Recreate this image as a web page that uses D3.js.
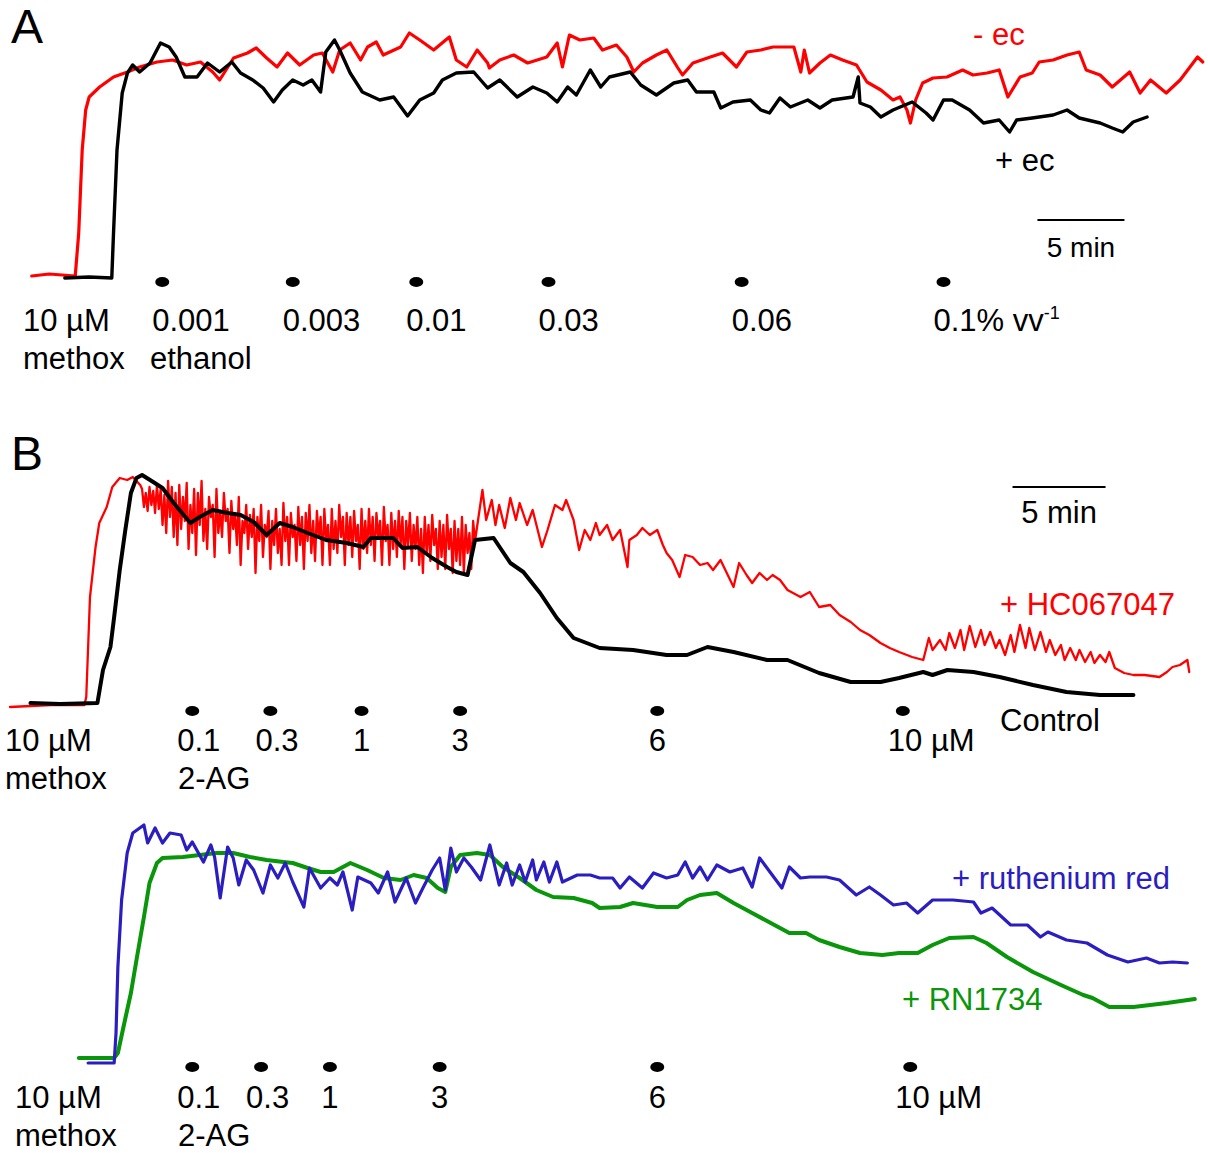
<!DOCTYPE html>
<html>
<head>
<meta charset="utf-8">
<script src="https://cdn.jsdelivr.net/npm/d3@7"></script>
<style>
	body { margin: 0; background: #fff; }
	svg text { font-family: "Liberation Sans", Arial, sans-serif; }
</style>
</head>
<body>
<svg id="chart" width="1208" height="1153"></svg>
<script>

	// ---- panel A : ethanol vehicle, [time (min), response (a.u.)] ----
	var minusEc = [[0.1,0],[1.1,1],[2.6,0],[2.8,21.5],[3.0,63],[3.2,83],[3.4,89.5],[4.0,94.5],[4.8,99.5],[5.6,102],
		[6.3,104.5],[7.3,107],[8.2,108],[9.0,105.5],[9.8,107],[10.5,102],[10.9,98],[11.7,109],[12.5,111.5],[13.0,114],
		[13.6,109],[14.2,104.5],[14.8,111.5],[15.5,105.5],[16.3,110.5],[16.8,111.5],[17.4,102],[17.8,113],[18.4,116.5],[19.0,108],
		[19.4,114.5],[19.9,117],[20.3,110.5],[21.3,114.5],[21.8,121.5],[22.4,118],[23.2,113],[24.1,119.5],[24.5,108],[25.1,104.5],
		[25.7,113],[26.3,106.5],[26.4,104],[27.0,108],[27.8,110.5],[28.6,106.5],[29.7,109.5],[30.3,116.5],[30.6,104.5],[31.0,120.5],
		[31.6,118],[32.4,119],[32.9,113],[33.7,115.5],[34.3,109.5],[34.7,102],[35.2,106.5],[36.0,110.5],[36.6,113],[37.2,104.5],
		[37.5,100.5],[38.1,106.5],[39.1,109.5],[39.8,111.5],[40.6,104.5],[41.2,112],[42.0,113],[42.7,114.5],[43.9,114.5],[44.3,102],
		[44.5,113],[44.8,101.5],[45.4,106.5],[46.0,110.5],[46.7,108],[47.5,105.5],[48.1,97],[48.9,93],[49.6,88],[50.0,89.5],
		[50.4,83],[50.6,76.5],[50.9,88],[51.3,96.5],[51.9,99],[52.7,99.5],[53.6,103],[54.2,100.5],[55.0,101.5],[55.7,103],
		[56.2,89.5],[56.9,99.5],[57.6,101.5],[58.0,107],[58.8,108],[59.6,110.5],[60.3,112],[60.7,103],[61.5,100.5],[62.2,94.5],
		[63.2,102],[63.8,91.5],[64.4,98],[65.3,91.5],[66.1,98],[67.1,109.5],[67.4,107]];

	var plusEc = [[2.0,-1],[3.4,-0.5],[4.7,-1],[4.8,21.5],[5.0,63],[5.3,91.5],[5.6,101.5],[5.9,105.5],[6.3,102],[6.9,106.5],
		[7.5,116.5],[8.0,114.5],[8.4,109.5],[8.9,99.5],[9.6,99.5],[10.2,106.5],[10.9,102],[11.6,107],[12.1,101.5],[12.8,98],
		[13.4,94],[14.0,87],[14.5,93],[15.1,98],[15.7,95.5],[16.2,98],[16.7,92],[17.0,112],[17.5,118],[17.8,113],
		[18.4,101.5],[19.1,92],[20.1,88],[20.9,89.5],[21.7,80],[22.4,88],[23.2,91.5],[23.7,98],[24.5,101.5],[25.5,102],
		[26.3,94],[27.0,98],[28.0,89.5],[28.9,94.5],[29.7,91.5],[30.3,87],[30.9,94.5],[31.4,90.5],[32.2,103],[32.8,94.5],
		[33.3,99.5],[34.5,102],[35.1,95.5],[36.0,90.5],[37.0,96.5],[37.8,98],[38.3,92],[39.3,92],[39.7,84],[40.4,87],
		[41.4,88],[42.0,83],[42.5,81.5],[43.1,89],[43.7,84.5],[44.7,88],[45.4,84],[46.1,88],[47.3,89.5],[47.6,99.5],
		[47.7,86.5],[48.3,84.5],[48.9,79.5],[49.6,83],[50.7,87],[51.5,81.5],[51.9,78],[52.5,88],[53.0,88],[54.0,83],
		[54.8,76.5],[55.7,78],[56.3,72],[56.7,78],[57.6,79],[58.8,80.5],[59.6,83],[60.3,79],[61.5,76.5],[62.2,74],
		[62.8,72],[63.4,77],[64.2,79.5]];

	var dosesA = [7.6, 15.1, 22.2, 29.8, 40.9, 52.5];
	var doseLabelsA = ["0.001", "0.003", "0.01", "0.03", "0.06", "0.1% vv^-1"];

	// ---- panel B : 2-AG, [time (min), response (a.u.)] ----
	// onset of the HC067047 trace
	var hcRise = [[0,-1],[1.1,-0.5],[2.2,0],[4.0,0],[4.1,4],[4.3,54],[4.6,79],[4.8,91],[5.2,99],[5.5,109],
		[5.9,113.5],[6.3,112.5],[6.6,114],[7.0,110]];
	// the very noisy stretch, read every 0.1 min from 7.1 min
	var hcNoisyStart = 7.1;
	var hcNoisy = [108,99,106,97,109,100,107,96,110,98,
		108,90,105,86,112,94,109,84,106,80,
		110,88,104,92,111,78,100,86,108,75,
		106,90,112,82,98,78,104,94,100,74,
		108,86,97,84,106,92,98,76,102,88,
		96,80,104,70,92,86,100,78,95,84,
		98,66,94,82,100,74,90,84,97,68,
		92,80,98,76,88,70,101,82,94,70,
		96,84,90,72,99,80,94,68,96,82,
		100,76,92,72,97,84,94,70,98,82,
		90,70,98,78,92,76,100,84,94,70,
		96,80,94,74,97,82,90,68,98,78,
		92,76,98,80,94,72,96,84,92,70,
		99,82,90,70,96,78,92,74,97,80,
		94,68,92,80,96,72,90,78,94,70,
		88,66,94,76,90,72,95,80,88,68,
		92,74,90,68,95,78,88,66,92,72,
		88,70,94,66,90,76,86,68,92];
	var hcTail = [[25.0,82],
		[25.4,107.5],[25.6,92.5],[25.9,102.5],[26.1,90],[26.3,100],[26.6,88.5],[26.9,103.5],[27.2,92.5],[27.4,101],[27.8,90],
		[28.1,97.5],[28.6,79],[28.9,87.5],[29.3,100],[29.7,97.5],[29.9,102.5],[30.3,92.5],[30.6,77.5],[30.9,87.5],[31.2,82.5],
		[31.5,91],[31.7,85],[32.1,90],[32.4,82.5],[32.8,87.5],[33.2,69],[33.3,82.5],[33.7,85],[34.0,88.5],[34.4,85],
		[34.8,87.5],[35.1,80],[35.3,76],[35.6,72.5],[36.0,64],[36.3,75],[36.7,74],[37.1,70],[37.5,71],[37.8,67.5],
		[38.2,72.5],[38.9,59],[39.2,71],[39.6,65],[39.9,61],[40.3,66],[40.7,62.5],[41.0,65],[41.4,62.5],[41.8,57.5],
		[42.5,54],[43.0,56.5],[43.5,49],[44.1,50],[44.6,45],[45.2,41.5],[45.7,37.5],[46.2,35],[46.8,31],[47.3,28.5],
		[47.8,26.5],[48.5,24],[49.1,22.5],[49.4,33.5],[49.6,27.5],
		[50.0,32.5],[50.3,27.5],[50.5,36],[50.8,28.5],[51.1,37.5],[51.3,27.5],[51.6,39.5],[51.9,29],[52.2,37.5],[52.4,30],
		[52.7,36.5],[53.0,28.5],[53.2,32.5],[53.5,25],[53.8,35],[54.0,26.5],[54.3,40],[54.6,28.5],[54.8,38.5],[55.1,27.5],
		[55.4,36.5],[55.7,26.5],[55.9,32.5],[56.2,25],[56.5,30],[56.7,22.5],[57.0,28.5],[57.3,22.5],[57.5,27.5],[57.8,21.5],
		[58.1,26.5],[58.3,21],[58.6,25],[58.9,21.5],[59.1,26.5],[59.4,18.5],[59.9,16],[60.4,15],[61.0,15],[61.8,14],
		[62.2,16.5],[62.5,19],[62.9,20],[63.3,22.5],[63.4,16.5]];

	var control = [[1.1,1],[2.7,0.5],[4.7,1],[5.0,17.5],[5.4,29],[5.6,44],[5.9,67.5],[6.2,87.5],[6.5,106],[6.8,113.5],
		[7.1,115],[7.7,111.5],[8.2,108.5],[8.8,101],[9.7,91],[10.2,94],[10.9,97.5],[11.7,96],[12.4,95],[13.1,91.5],
		[13.8,85],[14.5,91],[15.2,89],[16.0,86],[17.0,82.5],[18.1,81],[19.0,79],[19.4,83.5],[20.6,83.5],[21.1,78.5],
		[21.9,79],[22.7,73.5],[23.5,69],[24.0,66.5],[24.6,65],[25.0,82.5],[26.0,83.5],[26.9,71],[27.6,66.5],[28.5,56],
		[29.4,43.5],[30.3,33.5],[31.7,28.5],[33.5,27.5],[35.3,25],[36.4,25],[37.5,29],[38.9,26.5],[40.7,22.5],[41.8,22.5],
		[43.5,16],[45.2,11.5],[46.8,11.5],[47.8,13.5],[49.1,16.5],[49.6,15],[50.4,17.5],[51.8,16.5],[53.2,14],[55.0,10],
		[56.8,6.5],[58.6,5],[60.4,5]];

	var dosesB1 = [9.8, 14.0, 18.9, 24.2, 34.8, 48.0];
	var doseLabelsB = ["0.1", "0.3", "1", "3", "6", "10 µM"];

	var ruthenium = [[4.2,-1.5],[5.6,-1.5],[5.7,13.5],[5.8,46.5],[6.0,80],[6.3,103.5],[6.6,113.5],[7.2,117.5],[7.4,108.5],[7.8,116],
		[8.2,108.5],[8.6,113.5],[9.2,112.5],[9.5,105],[9.8,109],[10.4,99],[10.8,107.5],[11.0,101.5],[11.3,81],[11.7,106.5],
		[12.0,101],[12.3,87.5],[12.7,100],[13.1,95],[13.6,83.5],[14.0,97.5],[14.4,91],[14.8,98.5],[15.2,89],[15.8,76.5],
		[16.1,96],[16.7,86],[17.2,91],[17.6,87.5],[17.9,94],[18.4,75],[18.7,91.5],[19.4,88.5],[19.8,83.5],[20.3,94],
		[20.7,79],[21.3,91],[21.8,78.5],[22.2,86],[22.7,95],[23.1,101],[23.4,85],[23.7,106],[24.0,94],[24.4,101],
		[24.8,96.5],[25.3,90],[25.8,107.5],[26.3,87.5],[26.7,98.5],[27.0,87.5],[27.4,97.5],[27.7,89],[28.1,100],[28.3,90],
		[28.7,99],[29.0,89],[29.4,99],[29.7,89],[30.5,92.5],[31.2,92.5],[31.7,91],[32.4,91],[32.8,86],[33.3,91.5],
		[34.0,86],[34.6,93.5],[35.3,91],[35.9,92.5],[36.3,99],[36.7,91],[37.1,96.5],[37.5,90],[38.0,97.5],[38.7,94],
		[39.4,96],[39.9,86.5],[40.3,101],[40.9,93.5],[41.5,86],[41.9,96.5],[42.5,91],[43.0,91.5],[43.9,91.5],[44.6,90],
		[45.5,82.5],[46.2,86.5],[46.8,82.5],[47.5,77.5],[48.2,78.5],[48.8,73.5],[49.6,80],[50.7,80],[51.8,79],[52.2,73.5],
		[52.8,76],[53.8,67.5],[54.7,67.5],[55.4,61.5],[55.8,64],[56.8,60],[57.9,58.5],[59.0,52.5],[60.1,49],[61.1,51],
		[61.8,48.5],[62.5,49],[63.3,48.5]];

	var rn1734 = [[3.7,1],[4.8,1],[5.6,1],[5.8,3.5],[6.1,16.5],[6.5,33.5],[6.8,50],[7.2,71.5],[7.5,88.5],[7.9,98.5],
		[8.2,101],[9.3,101.5],[10.2,102.5],[11.1,103.5],[12.0,103.5],[12.9,101.5],[13.8,100],[14.7,99],[15.2,98.5],[16.0,96],
		[16.7,94],[17.4,94],[18.3,98.5],[19.2,95],[20.1,91],[21.0,90],[21.7,92.5],[22.4,91],[23.0,86],[23.4,84],
		[23.7,96.5],[24.2,102.5],[25.1,103.5],[25.8,102.5],[26.5,96.5],[27.4,91],[28.3,85],[29.2,81.5],[30.3,81],[31.3,78.5],
		[31.7,76],[32.8,76.5],[33.5,78.5],[34.8,76.5],[35.9,76.5],[36.4,80],[37.1,82.5],[38.0,83.5],[38.9,78.5],[39.9,73.5],
		[40.9,68.5],[41.9,63.5],[42.8,63.5],[43.5,60],[44.6,56.5],[45.7,53.5],[46.9,52.5],[47.8,53.5],[48.8,53.5],[49.6,57.5],
		[50.5,61],[51.8,61.5],[52.5,58.5],[53.6,51.5],[55.0,44],[56.5,37.5],[57.7,32.5],[58.2,31],[59.1,26.5],[60.4,26.5],
		[62.2,28.5],[63.7,30.5]];

	var dosesB2 = [9.8, 13.5, 17.2, 23.1, 34.8, 48.4];

	// join the three pieces of the HC067047 recording
	var hc067047 = hcRise
		.concat(hcNoisy.map(function(v, i) { return [hcNoisyStart + i * 0.1, v]; }))
		.concat(hcTail);

	var svg = d3.select("#chart");

	// scales, one pair per trace block
	var xA = d3.scaleLinear().domain([0, 67.5]).range([30, 1204.5]);
	var yA = d3.scaleLinear().domain([0, 120]).range([276, 36]);
	var xB = d3.scaleLinear().domain([0, 64]).range([10, 1200.4]);
	var yB1 = d3.scaleLinear().domain([0, 120]).range([705, 465]);
	var yB2 = d3.scaleLinear().domain([0, 120]).range([1060, 820]);

	function drawTrace(data, x, y, color, width) {
		var line = d3.line()
			.x(function(d) { return x(d[0]); })
			.y(function(d) { return y(d[1]); });
		svg.append("path")
			.datum(data)
			.attr("d", line)
			.attr("fill", "none")
			.attr("stroke", color)
			.attr("stroke-width", width)
			.attr("stroke-linejoin", "round")
			.attr("stroke-linecap", "round");
	}

	function addText(txt, px, py, size, color, anchor) {
		return svg.append("text")
			.attr("x", px)
			.attr("y", py)
			.attr("font-size", size)
			.attr("fill", color || "#000")
			.attr("text-anchor", anchor || "start")
			.text(txt);
	}

	// dots for each addition, plus the dose labels under them
	function drawDoses(times, labels, x, dotY, labelY, shift) {
		svg.selectAll(null)
			.data(times)
			.enter().append("ellipse")
			.attr("cx", function(d) { return x(d); })
			.attr("cy", dotY)
			.attr("rx", 7)
			.attr("ry", 5)
			.attr("fill", "#000");
		labels.forEach(function(lab, i) {
			var single = lab.length == 1;
			var parts = lab.split("^");
			var t = addText(parts[0], single ? x(times[i]) : x(times[i]) - shift, labelY, 31, "#000", single ? "middle" : "start");
			if (parts.length > 1) {
				t.append("tspan").attr("dy", -12).attr("font-size", 18).text(parts[1]);
			}
		});
	}

	function scaleBar(x, y, t0, v, size, labelY) {
		svg.append("line")
			.attr("x1", x(t0)).attr("x2", x(t0 + 5))
			.attr("y1", y(v)).attr("y2", y(v))
			.attr("stroke", "#000")
			.attr("stroke-width", 2);
		addText("5 min", x(t0 + 2.5), labelY, size, "#000", "middle");
	}

	// ---- panel A ----
	addText("A", 11, 43, 48);
	drawTrace(minusEc, xA, yA, "#ff0000", 3.2);
	drawTrace(plusEc, xA, yA, "#000000", 3.4);
	addText("- ec", 973, 45, 31, "#ff0000");
	addText("+ ec", 995, 171, 31, "#000");
	scaleBar(xA, yA, 57.9, 28, 28, 257);
	drawDoses(dosesA, doseLabelsA, xA, yA(0) + 6, 331, 10);
	addText("10 µM", 23, 331, 31);
	addText("methox", 23, 369, 31);
	addText("ethanol", 150, 369, 31);

	// ---- panel B, upper pair ----
	addText("B", 11, 470, 48);
	drawTrace(hc067047, xB, yB1, "#ff0000", 2.3);
	drawTrace(control, xB, yB1, "#000000", 4);
	addText("+ HC067047", 1000, 615, 31, "#ff0000");
	addText("Control", 1000, 731, 31, "#000");
	scaleBar(xB, yB1, 53.9, 109, 31, 523);
	drawDoses(dosesB1, doseLabelsB, xB, yB1(0) + 6, 751, 15);
	addText("10 µM", 5, 751, 31);
	addText("methox", 5, 789, 31);
	addText("2-AG", 178, 789, 31);

	// ---- panel B, lower pair ----
	drawTrace(rn1734, xB, yB2, "#0a960a", 4);
	drawTrace(ruthenium, xB, yB2, "#2a1ec0", 3.2);
	addText("+ ruthenium red", 952, 889, 31, "#2a1ec0");
	addText("+ RN1734", 902, 1010, 31, "#0a960a");
	drawDoses(dosesB2, doseLabelsB, xB, yB2(0) + 7, 1108, 15);
	addText("10 µM", 15, 1108, 31);
	addText("methox", 15, 1146, 31);
	addText("2-AG", 178, 1146, 31);

</script>
</body>
</html>
